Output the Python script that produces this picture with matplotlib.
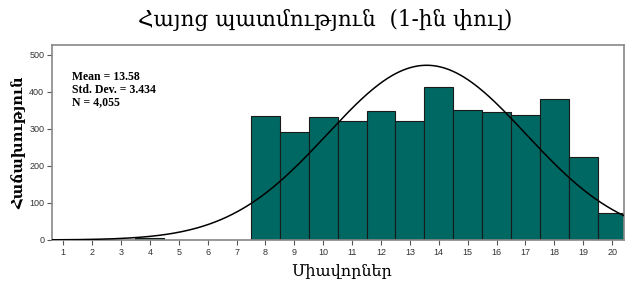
import matplotlib
matplotlib.use("Agg")
import matplotlib.pyplot as plt
import numpy as np

# data
scores = [1, 2, 3, 4, 5, 6, 7, 8, 9, 10, 11, 12, 13, 14, 15, 16, 17, 18, 19, 20]
counts = [0, 0, 1, 5, 0, 1, 1, 333, 291, 331, 322, 348, 321, 412, 351, 344, 336, 381, 223, 74]
mean = 13.58
std = 3.434
n = 4055

title = "Հայոց պատմություն  (1-ին փուլ)"
xlabel = "Միավորներ"
ylabel = "Հաճախություն"
stats_text = "Mean = 13.58\nStd. Dev. = 3.434\nN = 4,055"

fig = plt.figure(figsize=(6.25, 2.86), dpi=100)
ax = fig.add_axes([0.083, 0.161, 0.915, 0.682])

ax.bar(scores, counts, width=1.0, color="#006863", edgecolor="#1a1a1a", linewidth=0.8, zorder=2)

# fitted normal curve
xs = np.linspace(0.5, 20.5, 300)
ys = n / (std * np.sqrt(2 * np.pi)) * np.exp(-0.5 * ((xs - mean) / std) ** 2)
ax.plot(xs, ys, color="black", linewidth=1.1, zorder=3)

ax.set_xlim(0.61, 20.4)
ax.set_ylim(0, 526)
ax.set_xticks(scores)
ax.set_yticks([0, 100, 200, 300, 400, 500])
ax.tick_params(axis="both", labelsize=6.5, length=3.5, width=0.8, color="#555555", labelcolor="#333333", pad=2)
for lab in ax.get_xticklabels() + ax.get_yticklabels():
    lab.set_family("Liberation Sans")

for s in ax.spines.values():
    s.set_color("#888888")
    s.set_linewidth(1.2)

ax.text(0.035, 0.865, stats_text, transform=ax.transAxes, fontsize=8.5, fontweight="bold",
        family="Liberation Serif", va="top", ha="left", linespacing=1.05)

fig.text(0.52, 0.93, title, fontsize=15.5, family="DejaVu Serif", ha="center", va="center")
fig.text(0.547, 0.05, xlabel, fontsize=11.5, family="DejaVu Serif", ha="center", va="center")
fig.text(0.03, 0.5, ylabel, fontsize=10.5, family="DejaVu Serif", fontweight="bold",
         rotation=90, ha="center", va="center")

fig.savefig("out.png", dpi=100)
